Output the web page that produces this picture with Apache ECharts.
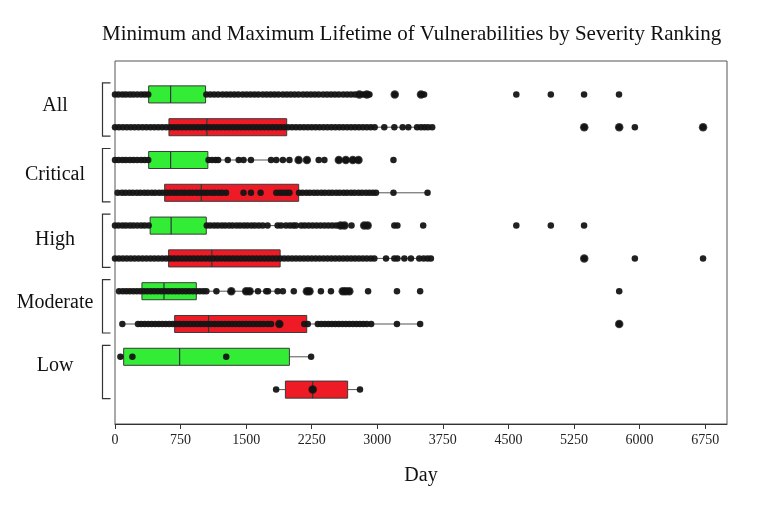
<!DOCTYPE html>
<html>
<head>
<meta charset="utf-8">
<script src="https://cdn.jsdelivr.net/npm/echarts@6/dist/echarts.min.js"></script>
<style>
html,body{margin:0;padding:0;background:#fff;}
#chart{width:762px;height:510px;}
</style>
</head>
<body>
<div id="chart"></div>
<script>
// ---------------- data ----------------
const titleText = 'Minimum and Maximum Lifetime of Vulnerabilities by Severity Ranking';
const axisName = 'Day';
const groups = ['All', 'Critical', 'High', 'Moderate', 'Low'];
const rows = ['All min', 'All max', 'Critical min', 'Critical max', 'High min', 'High max',
              'Moderate min', 'Moderate max', 'Low min', 'Low max'];
const dayTicks = [0, 750, 1500, 2250, 3000, 3750, 4500, 5250, 6000, 6750];

// [lower whisker, Q1, median, Q3, upper whisker] per row
const boxStats = [
  [0, 385, 636, 1036, 2000],
  [0, 617, 1051, 1964, 3628],
  [0, 385, 636, 1062, 1995],
  [30, 568, 987, 2101, 3574],
  [0, 402, 642, 1044, 2000],
  [0, 613, 1108, 1889, 3613],
  [46, 308, 560, 930, 1861],
  [84, 682, 1070, 2193, 3491],
  [62, 99, 739, 1995, 2243],
  [1843, 1949, 2261, 2661, 2802]
];

// observed points (days) per row
const ptsAllMin = [0,40,85,125,170,210,255,300,340,380,
  1045,1090,1135,1180,1230,1275,1320,1365,1410,1460,1505,1550,1595,1640,1690,1735,1780,1825,1870,1920,
  1965,2010,2055,2100,2150,2195,2240,2285,2330,2380,2425,2470,2515,2560,2610,2655,2700,2745,2795,2840,
  2880,2910,3200,3500,3535,4590,4985,5365,5765];
const ptsAllMax = [0,45,90,135,180,225,270,315,360,405,450,495,540,585,630,675,720,765,810,855,900,
  945,990,1035,1080,1125,1170,1215,1260,1305,1350,1395,1440,1485,1530,1575,1620,1665,1710,1755,1800,
  1845,1890,1935,1980,2025,2070,2115,2160,2205,2250,2295,2340,2385,2430,2475,2520,2565,2610,2655,2700,
  2745,2790,2835,2880,2925,2970,3080,3195,3290,3355,3455,3500,3540,3580,3628,5367,5767,5946,6726];
const ptsCritMin = [0,40,85,125,170,210,255,300,340,380,1070,1110,1150,1180,1290,1415,1470,1555,
  1785,1845,1920,1995,2100,2195,2330,2395,2560,2640,2720,2785,3185];
const ptsCritMax = [30,80,120,165,205,250,290,335,375,420,460,505,545,590,630,675,715,760,800,845,885,
  930,970,1015,1055,1100,1140,1185,1225,1270,1470,1555,1665,1845,1885,1920,1960,1995,2105,2145,2190,
  2230,2275,2315,2360,2400,2445,2485,2530,2570,2615,2655,2700,2740,2785,2825,2870,2910,2950,2985,
  3185,3575];
const ptsHighMin = [0,40,85,125,170,210,255,300,340,385,1050,1090,1135,1175,1220,1260,1305,1345,1390,
  1430,1475,1515,1560,1600,1645,1690,1745,1860,1900,1955,2000,2040,2070,2130,2170,2215,2260,2305,2350,
  2395,2440,2485,2530,2580,2625,2705,2850,2890,3195,3230,3525,4590,4985,5365];
const ptsHighMax = [0,45,90,135,180,225,270,315,360,405,450,495,540,585,630,675,720,765,810,855,900,
  945,990,1035,1080,1125,1170,1215,1260,1305,1350,1395,1440,1485,1530,1575,1620,1665,1710,1755,1800,
  1845,1890,1935,1980,2025,2070,2115,2160,2205,2250,2295,2340,2385,2430,2475,2520,2565,2610,2655,2700,
  2745,2790,2835,2880,2925,2966,3100,3195,3230,3310,3385,3480,3530,3575,3613,5367,5946,6726];
const ptsModMin = [46,90,130,170,210,250,290,330,370,410,450,490,530,570,610,650,690,730,770,810,850,
  890,930,970,1010,1045,1160,1330,1500,1540,1635,1730,1750,1860,1920,2045,2195,2225,2355,2470,2605,
  2640,2680,2895,3225,3490,5767];
const ptsModMax = [84,263,300,340,380,420,460,500,540,580,620,660,700,740,780,820,860,900,940,980,1020,
  1060,1100,1140,1180,1220,1260,1300,1340,1380,1420,1460,1500,1540,1580,1620,1660,1700,1745,1785,1880,
  2165,2205,2320,2360,2400,2440,2480,2520,2560,2600,2640,2680,2720,2760,2800,2840,2880,2930,3225,3490,5767];
const ptsLowMin = [62,199,1272,2243];
const ptsLowMax = [1843,2261,2802];

// points where several observations coincide (drawn heavier): [row, day]
const heavyPoints = [[0,2795],[0,2880],[0,3200],[0,3500],[1,5367],[1,5767],[1,6726],
  [2,2100],[2,2195],[2,2560],[2,2640],[2,2720],[2,2785],[4,2580],[4,2625],[4,2850],[4,2890],
  [5,5367],[6,1330],[6,1500],[6,1540],[6,2195],[6,2225],[6,2605],[6,2640],[6,2680],[7,1880],[7,5767],[9,2261]];

// ---------------- build ----------------
const rowPoints = [ptsAllMin, ptsAllMax, ptsCritMin, ptsCritMax, ptsHighMin, ptsHighMax,
                   ptsModMin, ptsModMax, ptsLowMin, ptsLowMax];
const pointData = [];
rowPoints.forEach((arr, r) => arr.forEach(v => pointData.push([v, r])));
const heavyData = heavyPoints.map(p => [p[1], p[0]]);
const boxData = boxStats.map((s, r) => [r].concat(s));
const bracketData = groups.map((g, i) => [2 * i, 2 * i + 1]);

const GREEN = '#33ec35';
const RED = '#ee1b26';
const SERIF = '"Liberation Serif", "Times New Roman", serif';
const labelLift = [11, 4, 5, 9.5, 15];   // bottom padding per group label (vertical nudge)
const rich = {};
labelLift.forEach((p, i) => {
  rich['g' + i] = {fontFamily: SERIF, fontSize: 20, color: '#111', padding: [0, 0, p, 0]};
});

const chart = echarts.init(document.getElementById('chart'), null, {renderer: 'canvas'});
chart.setOption({
  backgroundColor: '#ffffff',
  animation: false,
  title: {
    text: titleText, left: 97, top: 19,
    textStyle: {fontFamily: SERIF, fontSize: 21, fontWeight: 'normal', color: '#111'}
  },
  grid: [
    {left: 115, right: 35, top: 61, bottom: 86, show: true, borderColor: '#555', borderWidth: 1, backgroundColor: 'transparent'},
    {left: 115, right: 35, top: 78, bottom: 104}
  ],
  xAxis: [
    {
      type: 'value', gridIndex: 0, min: 0, max: 7000, interval: 750,
      name: axisName, nameLocation: 'middle', nameGap: 42,
      nameTextStyle: {fontFamily: SERIF, fontSize: 20, color: '#111'},
      axisLine: {show: true, lineStyle: {color: '#333', width: 1}},
      axisTick: {show: true, length: 5, customValues: dayTicks, lineStyle: {color: '#333'}},
      axisLabel: {fontFamily: SERIF, fontSize: 14, color: '#222', margin: 9, customValues: dayTicks,
                  formatter: v => String(v)},
      splitLine: {show: false}
    },
    {type: 'value', gridIndex: 1, min: 0, max: 7000, show: false, splitLine: {show: false}}
  ],
  yAxis: [
    {type: 'value', gridIndex: 0, show: false, min: 0, max: 1},
    {type: 'category', gridIndex: 1, data: rows, inverse: true, position: 'left',
     axisLine: {show: false}, axisTick: {show: false}, axisLabel: {show: false}},
    {type: 'category', gridIndex: 1, data: groups, inverse: true, position: 'left', offset: 0,
     axisLine: {show: false}, axisTick: {show: false}, splitLine: {show: false},
     axisLabel: {fontFamily: SERIF, fontSize: 20, color: '#111', align: 'center', margin: 60,
                 formatter: (v, i) => '{g' + i + '|' + v + '}', rich: rich}}
  ],
  series: [
    {
      type: 'custom', name: 'brackets', xAxisIndex: 1, yAxisIndex: 1, clip: false, silent: true,
      data: bracketData, encode: {y: [0, 1]},
      renderItem: function (params, api) {
        const a = api.coord([0, api.value(0)]);
        const b = api.coord([0, api.value(1)]);
        const xv = a[0] - 12.5, xe = a[0] - 4.5;
        const y1 = a[1] - 11.5, y2 = b[1] + 9;
        return {
          type: 'polyline',
          shape: {points: [[xe, y1], [xv, y1], [xv, y2], [xe, y2]]},
          style: {stroke: '#333', lineWidth: 1.2, fill: null}
        };
      },
      z: 2
    },
    {
      type: 'custom', name: 'boxes', xAxisIndex: 1, yAxisIndex: 1, silent: true,
      data: boxData, encode: {y: 0, x: [1, 2, 3, 4, 5]},
      renderItem: function (params, api) {
        const r = api.value(0);
        const pMin = api.coord([api.value(1), r]);
        const pQ1 = api.coord([api.value(2), r]);
        const pMed = api.coord([api.value(3), r]);
        const pQ3 = api.coord([api.value(4), r]);
        const pMax = api.coord([api.value(5), r]);
        const band = api.size([0, 1])[1];
        const h = band * 0.52;
        const y = pMin[1];
        const fill = r % 2 === 0 ? GREEN : RED;
        return {
          type: 'group',
          children: [
            {type: 'line', shape: {x1: pMin[0], y1: y, x2: pQ1[0], y2: y}, style: {stroke: '#555', lineWidth: 1}},
            {type: 'line', shape: {x1: pQ3[0], y1: y, x2: pMax[0], y2: y}, style: {stroke: '#555', lineWidth: 1}},
            {type: 'rect', shape: {x: pQ1[0], y: y - h / 2, width: pQ3[0] - pQ1[0], height: h},
             style: {fill: fill, stroke: '#3a3a3a', lineWidth: 1}},
            {type: 'line', shape: {x1: pMed[0], y1: y - h / 2, x2: pMed[0], y2: y + h / 2},
             style: {stroke: '#2a3a3a', lineWidth: 1.2}}
          ]
        };
      },
      z: 3
    },
    {
      type: 'scatter', name: 'points', xAxisIndex: 1, yAxisIndex: 1, data: pointData,
      symbol: 'circle', symbolSize: 6.5, itemStyle: {color: '#151515', opacity: 0.95}, silent: true, z: 4
    },
    {
      type: 'scatter', name: 'coinciding points', xAxisIndex: 1, yAxisIndex: 1, data: heavyData,
      symbol: 'circle', symbolSize: 8.5, itemStyle: {color: '#111'}, silent: true, z: 5
    }
  ]
});
</script>
</body>
</html>
